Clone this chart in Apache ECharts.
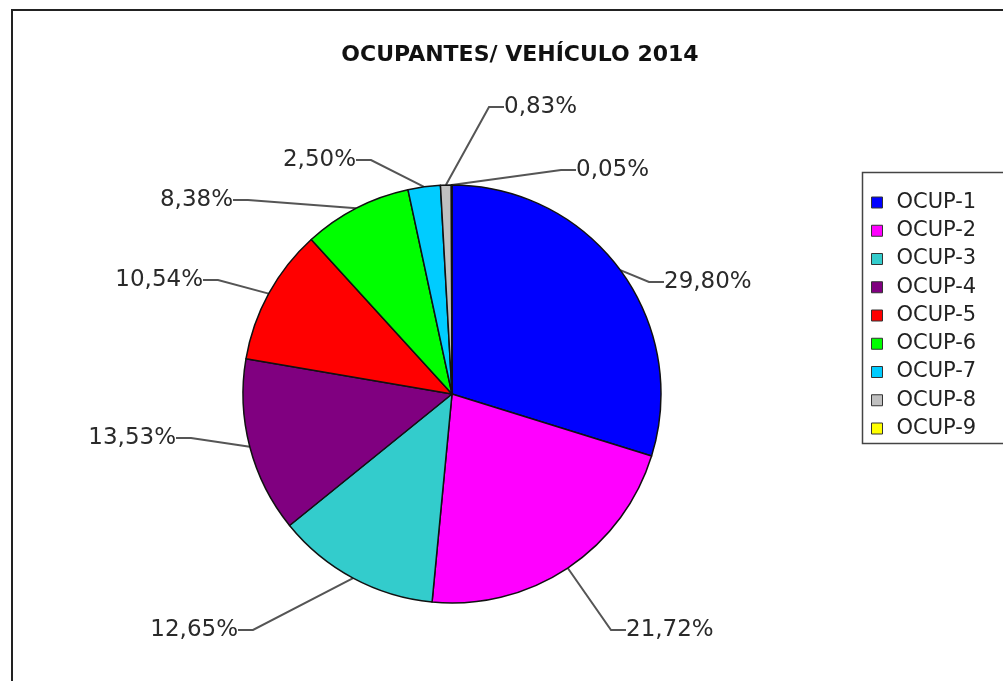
<!DOCTYPE html>
<html>
<head>
<meta charset="utf-8">
<script src="https://cdn.jsdelivr.net/npm/echarts@6/dist/echarts.min.js"></script>
<style>
html,body{margin:0;padding:0;background:#fff;}
#chart{width:1003px;height:681px;}
</style>
</head>
<body>
<div id="chart"></div>
<script>
const categories = ['OCUP-1','OCUP-2','OCUP-3','OCUP-4','OCUP-5','OCUP-6','OCUP-7','OCUP-8','OCUP-9'];
const values = [29.80, 21.72, 12.65, 13.53, 10.54, 8.38, 2.50, 0.83, 0.05];
const colors = ['#0000FF','#FF00FF','#33CCCC','#800080','#FF0000','#00FF00','#00CCFF','#C0C0C0','#FFFF00'];
const titleText = 'OCUPANTES/ VEHÍCULO 2014';

// label anchor positions (label placement only)
const labelPlace = [
  {x: 664, y: 282, align: 'left'},
  {x: 626, y: 630, align: 'left'},
  {x: 238, y: 630, align: 'right'},
  {x: 176, y: 438, align: 'right'},
  {x: 203, y: 280, align: 'right'},
  {x: 233, y: 200, align: 'right'},
  {x: 356, y: 160, align: 'right'},
  {x: 504, y: 107, align: 'left'},
  {x: 576, y: 170, align: 'left'}
];

const chart = echarts.init(document.getElementById('chart'));
chart.setOption({
  backgroundColor: '#fff',
  animation: false,
  title: {
    text: titleText,
    left: 515, top: 39, textAlign: 'center',
    textStyle: {fontFamily: 'DejaVu Sans', fontWeight: 'bold', fontSize: 22, color: '#111'}
  },
  graphic: [
    {type: 'rect', shape: {x: 12, y: 10, width: 1010, height: 700}, style: {fill: 'none', stroke: '#222', lineWidth: 2}, silent: true},
    {type: 'rect', shape: {x: 862.5, y: 172.5, width: 160, height: 271}, style: {fill: 'none', stroke: '#444', lineWidth: 1.5}, silent: true}
  ],
  legend: {
    orient: 'vertical',
    left: 866, top: 187,
    itemWidth: 11, itemHeight: 11,
    itemGap: 7.25,
    icon: 'rect',
    data: categories,
    itemStyle: {borderColor: '#333', borderWidth: 1},
    textStyle: {fontFamily: 'DejaVu Sans', fontSize: 21, lineHeight: 20, color: '#222', padding: [0,0,0,9]}
  },
  series: [{
    type: 'pie',
    center: [452, 394],
    radius: 209,
    startAngle: 90,
    clockwise: true,
    color: colors,
    itemStyle: {borderColor: '#111', borderWidth: 1.5},
    label: {
      show: true,
      fontFamily: 'DejaVu Sans', fontSize: 23, color: '#2a2a2a',
      formatter: p => p.value.toFixed(2).replace('.', ',') + '%'
    },
    labelLine: {show: true, length: 15, length2: 15, lineStyle: {color: '#555', width: 2}},
    labelLayout: function (params) {
      const lp = labelPlace[params.dataIndex];
      return {x: lp.x, y: lp.y, align: lp.align, verticalAlign: 'middle'};
    },
    emphasis: {disabled: true},
    data: categories.map((c, i) => ({name: c, value: values[i]}))
  }]
});
</script>
</body>
</html>
